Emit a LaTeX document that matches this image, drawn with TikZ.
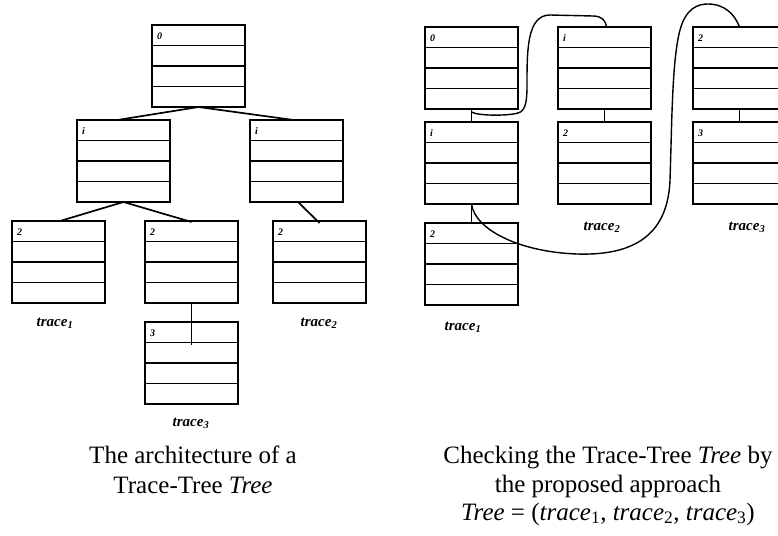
\documentclass[tikz,border=0pt]{standalone}
\usepackage{fontspec}
\setmainfont{Liberation Serif}
\usetikzlibrary{calc}
\begin{document}
\begin{tikzpicture}[x=1pt,y=-1pt,
  % a record of four equal rows, level number in the first row
  recbox/.style={draw, line width=2pt, minimum width=93pt, minimum height=82pt,
    inner sep=0pt, outer sep=0pt, anchor=north west,
    path picture={\foreach \k in {1,2,3}{\draw[line width=1.7pt]
      ($(path picture bounding box.north west)!\k/4!(path picture bounding box.south west)$) --
      ($(path picture bounding box.north east)!\k/4!(path picture bounding box.south east)$);}},
    label={[lvl]north west:#1}},
  lvl/.style={font=\fontsize{10}{10}\selectfont\bfseries\itshape, anchor=west,
    inner sep=0pt, xshift=5pt, yshift=-11pt},
  conn/.style={line width=1.7pt},
  curve/.style={line width=1.4pt},
  tracelbl/.style={font=\fontsize{15}{15}\selectfont\bfseries\itshape, anchor=base, inner sep=0pt},
  caption/.style={font=\fontsize{25}{29}\selectfont, anchor=base, inner sep=0pt}]

\useasboundingbox (0,0) rectangle (778,535);
\fill[white] (0,0) rectangle (778,535);
\clip (0,0) rectangle (778,535);

% ---- left: the trace tree ----
\node[recbox=0] (B0)  at (152,25)  {};
\node[recbox=i] (L1a) at (77,120)  {};
\node[recbox=i] (L1b) at (250,120) {};
\node[recbox=2] (L2a) at (12,221)  {};
\node[recbox=2] (L2b) at (145,221) {};
\node[recbox=2] (L2c) at (273,221) {};
\node[recbox=3] (L3)  at (145,322) {};

\draw[conn] (B0.south) -- ([xshift=-6pt]L1a.north);
\draw[conn] (B0.south) -- ([xshift=-3pt]L1b.north);
\draw[conn] (L1a.south) -- ([xshift=1.5pt]L2a.north);
\draw[conn] (L1a.south) -- ([yshift=-1pt]L2b.north);
\draw[conn] ([xshift=1.5pt]L1b.south) -- ([yshift=-2pt]L2c.north);
\coordinate (L3in) at ([yshift=-23pt]L3.north);
\draw[conn] (L2b.south) -- (L3in);

\node[tracelbl] (lt1) at (55,326.5)  {trace\textsubscript{1}};
\node[tracelbl] (lt2) at (319,326.5) {trace\textsubscript{2}};
\node[tracelbl] (lt3) at (191,426.5) {trace\textsubscript{3}};

\node[caption] (capL1) at (193,463) {The architecture of a};
\node[caption] (capL2) at (193,493) {Trace-Tree \textit{Tree}};

% ---- right: the tree checked trace by trace ----
\node[recbox=0] (R0) at (425,27)  {};
\node[recbox=i] (R1) at (425,122) {};
\node[recbox=2] (R2) at (425,223) {};
\node[recbox=i] (M1) at (558,27)  {};
\node[recbox=2] (M2) at (558,122) {};
\node[recbox=2] (S2) at (693,27)  {};
\node[recbox=3] (S3) at (693,122) {};

\draw[conn] (R0.south) -- (R1.north);
\draw[conn] (R1.south) -- (R2.north);
\draw[conn] (M1.south) -- (M2.north);
\draw[conn] (S2.south) -- (S3.north);

\coordinate (k1) at ([yshift=-3pt]R0.south);
\draw[curve] (k1) .. controls (478,116) and (508,116) .. (518,113)
  .. controls (526,111) and (527,100) .. (527,85)
  .. controls (527,50) and (527,15) .. (550,15)
  -- (593,16) .. controls (602,16) and (606,21) .. ([xshift=2pt]M1.north);

\draw[curve] (R1.south) .. controls (475,230) and (520,252) .. (577,254)
  .. controls (640,256) and (668,230) .. (670,180)
  .. controls (672,120) and (672,60) .. (680,30)
  .. controls (686,8) and (698,4) .. (708,4)
  .. controls (725,4) and (735,15) .. (S2.north);

\node[tracelbl] (rt1) at (463,330.5) {trace\textsubscript{1}};
\node[tracelbl] (rt2) at (602,230.5) {trace\textsubscript{2}};
\node[tracelbl] (rt3) at (747,230.5) {trace\textsubscript{3}};

\node[caption] (capR1) at (608,463) {Checking the Trace-Tree \textit{Tree} by};
\node[caption] (capR2) at (608,492) {the proposed approach};
\node[caption] (capR3) at (608,520) {\textit{Tree} = (\textit{trace}\textsubscript{1}, \textit{trace}\textsubscript{2}, \textit{trace}\textsubscript{3})};
\end{tikzpicture}
\end{document}
